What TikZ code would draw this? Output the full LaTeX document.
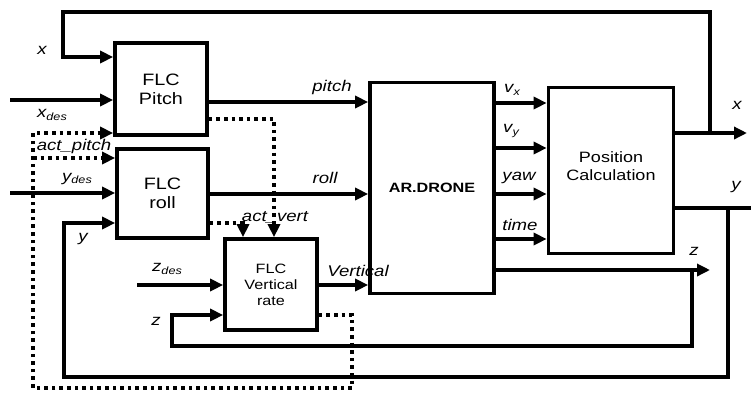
\documentclass[tikz,border=0pt]{standalone}
\usepackage{fontspec}
\setmainfont{Liberation Sans}[FakeStretch=1.2]
\usetikzlibrary{arrows.meta}
\newcommand\subsc[1]{\raisebox{-2.5pt}{\fontsize{10.5}{11}\selectfont #1}}
\begin{document}
\begin{tikzpicture}[x=1pt,y=-1pt,
  box/.style={draw, line width=3.7pt, inner sep=0pt, align=center},
  wire/.style={line width=3.4pt},
  arr/.style={wire, -{Triangle[length=13pt,width=12pt]}},
  dotw/.style={line width=3.4pt, dash pattern=on 3.6pt off 4pt},
  dotarr/.style={dotw, -{Triangle[length=13pt,width=12pt]}},
  lab/.style={font=\fontsize{15.5}{18}\selectfont\itshape, inner sep=0pt}]
\useasboundingbox (0,0) rectangle (751,392);

% boxes
\node[box, minimum width=92pt, minimum height=92pt, font=\fontsize{16.5}{19}\selectfont] (pitchbox) at (161,89) {FLC\\Pitch};
\node[box, minimum width=91pt, minimum height=89pt, font=\fontsize{16.5}{19}\selectfont] (rollbox) at (162.5,193.5) {FLC\\roll};
\node[box, minimum width=92pt, minimum height=91pt, font=\fontsize{13.5}{16}\selectfont] (vertbox) at (271,284.5) {FLC\\Vertical\\rate};
\node[box, minimum width=124pt, minimum height=211pt, font=\fontsize{13.5}{16}\selectfont\bfseries] (drone) at (432,188) {AR.DRONE};
\node[box, minimum width=125pt, minimum height=166pt, font=\fontsize{15}{18}\selectfont] (poscalc) at (611,170.5) {Position\\Calculation\\[-10pt]{}};

% coordinates
\coordinate (xj) at (710,133);
\coordinate (xtl) at (63,12);
\coordinate (xin) at (0,57);
\coordinate (xout) at (747,133);
\coordinate (yj) at (728,208);
\coordinate (yout) at (764,208);
\coordinate (ybl) at (64,377);
\coordinate (yin) at (0,223);
\coordinate (zo) at (710,270);
\coordinate (zj) at (692,270);
\coordinate (zbl) at (172,346);
\coordinate (zin) at (0,315);
\coordinate (xs) at (10,100);
\coordinate (ys) at (10,193);
\coordinate (zs) at (137,285);
\coordinate (py) at (0,102);
\coordinate (ry) at (0,194);
\coordinate (vy) at (0,285);
\coordinate (o1) at (0,103);
\coordinate (o2) at (0,148);
\coordinate (o3) at (0,194);
\coordinate (o4) at (0,239);
\coordinate (zdr) at (0,270);
\coordinate (ad0) at (0,315);
\coordinate (ad1) at (352,388);
\coordinate (ad2) at (33,133);
\coordinate (ab) at (33,158);
\coordinate (pd) at (274,119);
\coordinate (rd) at (243,223);

% solid connectors
\draw[arr] (xj) |- (xtl) |- (pitchbox.west |- xin);
\draw[arr] (poscalc.east |- xj) -- (xout);
\draw[arr] (poscalc.east |- yj) -- (yout);
\draw[arr] (yj) |- (ybl) |- (rollbox.west |- yin);
\draw[arr] (drone.east |- zdr) -- (zo);
\draw[arr] (zj) |- (zbl) |- (vertbox.west |- zin);
\draw[arr] (xs) -- (pitchbox.west |- xs);
\draw[arr] (ys) -- (rollbox.west |- ys);
\draw[arr] (zs) -- (vertbox.west |- zs);
\draw[arr] (pitchbox.east |- py) -- (drone.west |- py);
\draw[arr] (rollbox.east |- ry) -- (drone.west |- ry);
\draw[arr] (vertbox.east |- vy) -- (drone.west |- vy);
\draw[arr] (drone.east |- o1) -- (poscalc.west |- o1);
\draw[arr] (drone.east |- o2) -- (poscalc.west |- o2);
\draw[arr] (drone.east |- o3) -- (poscalc.west |- o3);
\draw[arr] (drone.east |- o4) -- (poscalc.west |- o4);

% dotted connectors
\draw[dotarr] (vertbox.east |- ad0) -| (ad1) -| (ad2) -- (pitchbox.west |- ad2);
\draw[dotarr] (ab) -- (rollbox.west |- ab);
\draw[dotarr] (pitchbox.east |- pd) -| (vertbox.north -| pd);
\draw[dotarr] (rollbox.east |- rd) -| (vertbox.north -| rd);

% labels
\node[lab] (lx) at (42,50) {x};
\node[lab] (lxdes) at (52,115) {x\subsc{des}};
\node[lab] (lact) at (74,146) {act\_pitch};
\node[lab] (lydes) at (77,179) {y\subsc{des}};
\node[lab] (ly) at (83,239) {y};
\node[lab] (lzdes) at (167,269) {z\subsc{des}};
\node[lab] (lz) at (156,321) {z};
\node[lab] (lpitch) at (332,87) {pitch};
\node[lab] (lroll) at (325,178) {roll};
\node[lab] (lactv) at (275,217) {act\_vert};
\node[lab] (lvert) at (358,271) {Vertical};
\node[lab] (lvx) at (512,90) {v\subsc{x}};
\node[lab] (lvy) at (511,131) {v\subsc{y}};
\node[lab] (lyaw) at (519,178) {yaw};
\node[lab] (ltime) at (520,225) {time};
\node[lab] (lxo) at (737,105) {x};
\node[lab] (lyo) at (736,187) {y};
\node[lab] (lzo) at (694,251) {z};
\end{tikzpicture}
\end{document}
